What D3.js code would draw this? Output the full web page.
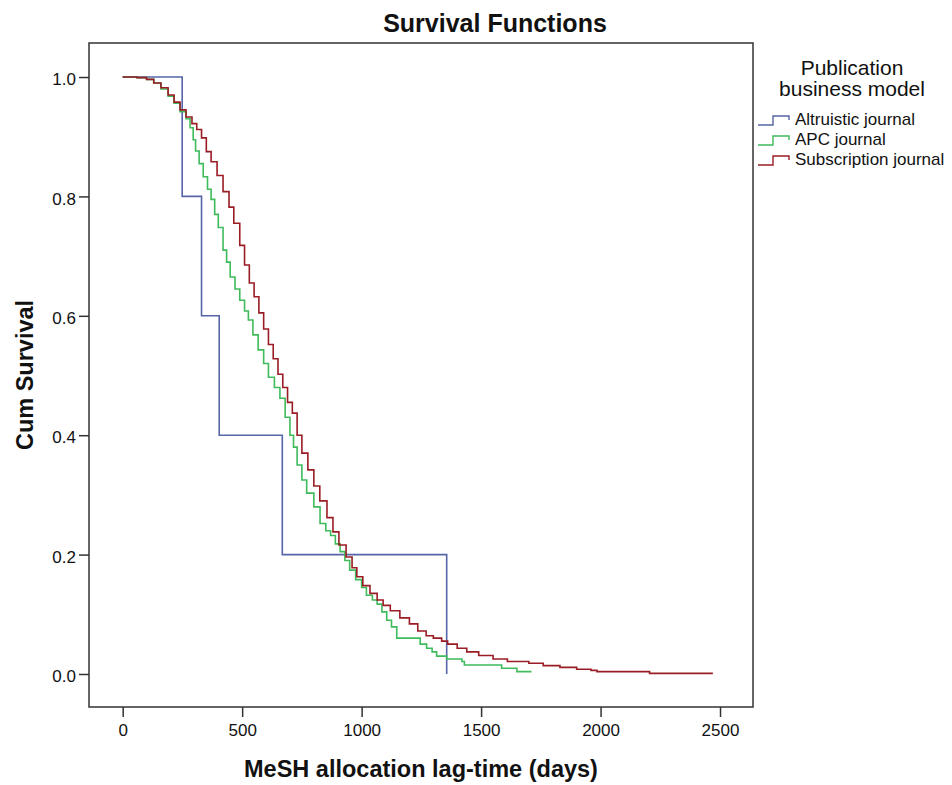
<!DOCTYPE html>
<html>
<head>
<meta charset="utf-8">
<script src="https://cdn.jsdelivr.net/npm/d3@7"></script>
<style>
  body { margin: 0; background: #fff; }
  text { font-family: "Liberation Sans", Arial, sans-serif; fill: #111; }
</style>
</head>
<body>
<div id="chart"></div>
<script>
// Kaplan-Meier steps: [days, cumulative survival]
var altruistic = [[0, 1], [249, 0.8], [330, 0.6], [404, 0.4], [668, 0.2], [1356, 0]];

var apc = [
  [0, 1], [60, 0.999], [100, 0.996], [130, 0.99], [160, 0.98], [190, 0.968], [215, 0.956],
  [240, 0.942], [265, 0.93], [282, 0.915], [295, 0.895], [305, 0.876], [320, 0.855],
  [337, 0.833], [355, 0.812], [370, 0.795], [385, 0.77], [400, 0.748], [420, 0.71],
  [435, 0.69], [450, 0.665], [470, 0.645], [490, 0.626], [510, 0.608], [526, 0.593],
  [545, 0.568], [567, 0.543], [590, 0.52], [610, 0.497], [635, 0.48], [658, 0.462],
  [680, 0.43], [700, 0.4], [715, 0.38], [730, 0.35], [750, 0.325], [770, 0.303],
  [800, 0.28], [826, 0.252], [850, 0.24], [870, 0.232], [890, 0.218], [910, 0.205],
  [930, 0.19], [950, 0.174], [975, 0.158], [1000, 0.145], [1020, 0.132], [1045, 0.124],
  [1065, 0.117], [1085, 0.104], [1105, 0.09], [1125, 0.079], [1147, 0.06], [1245, 0.05],
  [1272, 0.043], [1295, 0.037], [1314, 0.03], [1356, 0.025], [1420, 0.021], [1430, 0.015],
  [1586, 0.0095], [1650, 0.004], [1711, 0.004]
];

var subscription = [
  [0, 1], [60, 0.999], [100, 0.996], [130, 0.99], [160, 0.982], [190, 0.97], [215, 0.958],
  [240, 0.945], [265, 0.933], [290, 0.922], [310, 0.912], [330, 0.898], [350, 0.875],
  [370, 0.858], [395, 0.835], [420, 0.808], [445, 0.782], [465, 0.755], [490, 0.718],
  [510, 0.685], [530, 0.655], [550, 0.632], [570, 0.605], [590, 0.578], [610, 0.552],
  [630, 0.528], [650, 0.502], [670, 0.48], [690, 0.455], [710, 0.437], [730, 0.4],
  [750, 0.37], [775, 0.342], [800, 0.315], [825, 0.29], [855, 0.262], [880, 0.238],
  [905, 0.216], [935, 0.196], [960, 0.178], [980, 0.163], [1005, 0.148], [1035, 0.135],
  [1065, 0.124], [1090, 0.115], [1120, 0.106], [1160, 0.094], [1200, 0.084], [1235, 0.072],
  [1270, 0.064], [1300, 0.06], [1335, 0.055], [1360, 0.05], [1400, 0.043], [1440, 0.037],
  [1490, 0.031], [1550, 0.025], [1610, 0.021], [1700, 0.018], [1760, 0.014], [1830, 0.011],
  [1900, 0.008], [1960, 0.006], [1985, 0.004], [2205, 0.001], [2470, 0.001]
];

var groups = ["Altruistic journal", "APC journal", "Subscription journal"];
var colors = ["#5664a8", "#3fbb5c", "#9a1c24"];
var xTicks = [0, 500, 1000, 1500, 2000, 2500];
var yTicks = [0, 0.2, 0.4, 0.6, 0.8, 1.0];

var width = 952, height = 785;
var frame = {left: 89, right: 753, top: 43, bottom: 707};

var svg = d3.select("#chart").append("svg")
    .attr("width", width)
    .attr("height", height);

var x = d3.scaleLinear().domain([-141, 2638]).range([frame.left, frame.right]);
var y = d3.scaleLinear().domain([-0.0553, 1.057]).range([frame.bottom, frame.top]);

// frame
svg.append("rect")
    .attr("x", frame.left).attr("y", frame.top)
    .attr("width", frame.right - frame.left).attr("height", frame.bottom - frame.top)
    .attr("fill", "none").attr("stroke", "#333").attr("stroke-width", 1.5);

// axes
var xAxis = svg.append("g")
    .attr("transform", "translate(0," + frame.bottom + ")")
    .call(d3.axisBottom(x).tickValues(xTicks).tickSize(10).tickPadding(7).tickFormat(d3.format("d")));
var yAxis = svg.append("g")
    .attr("transform", "translate(" + frame.left + ",0)")
    .call(d3.axisLeft(y).tickValues(yTicks).tickSize(10).tickPadding(3).tickFormat(d3.format(".1f")));

[xAxis, yAxis].forEach(function (g) {
    g.select(".domain").remove();
    g.selectAll("line").attr("stroke", "#333").attr("stroke-width", 1.5);
    g.selectAll("text")
        .style("font-family", "'Liberation Sans', Arial, sans-serif")
        .style("font-size", "17px")
        .attr("fill", "#222");
});
yAxis.selectAll("text").attr("dy", "0.45em");

// survival curves
var line = d3.line()
    .x(function (d) { return x(d[0]); })
    .y(function (d) { return y(d[1]); })
    .curve(d3.curveStepAfter);

[altruistic, apc, subscription].forEach(function (series, i) {
    svg.append("path")
        .datum(series)
        .attr("d", line)
        .attr("fill", "none")
        .attr("stroke", colors[i])
        .attr("stroke-width", 1.6);
});

// title and axis labels
svg.append("text")
    .attr("x", 495).attr("y", 32)
    .attr("text-anchor", "middle")
    .style("font-size", "25px").style("font-weight", "bold")
    .text("Survival Functions");

svg.append("text")
    .attr("x", (frame.left + frame.right) / 2).attr("y", 777)
    .attr("text-anchor", "middle")
    .style("font-size", "23.5px").style("font-weight", "bold")
    .text("MeSH allocation lag-time (days)");

svg.append("text")
    .attr("transform", "translate(33," + (frame.top + frame.bottom) / 2 + ") rotate(-90)")
    .attr("text-anchor", "middle")
    .style("font-size", "23.5px").style("font-weight", "bold")
    .text("Cum Survival");

// legend
var legend = svg.append("g");
legend.append("text")
    .attr("x", 852).attr("y", 75)
    .attr("text-anchor", "middle")
    .style("font-size", "21px")
    .text("Publication");
legend.append("text")
    .attr("x", 852).attr("y", 96)
    .attr("text-anchor", "middle")
    .style("font-size", "21px")
    .text("business model");

groups.forEach(function (name, i) {
    var by = 125 + i * 20;
    legend.append("path")
        .attr("d", "M758," + by + "H773V" + (by - 9) + "H789V" + (by - 5))
        .attr("fill", "none")
        .attr("stroke", colors[i])
        .attr("stroke-width", 1.4);
    legend.append("text")
        .attr("x", 795).attr("y", by)
        .style("font-size", "17px")
        .text(name);
});
</script>
</body>
</html>
